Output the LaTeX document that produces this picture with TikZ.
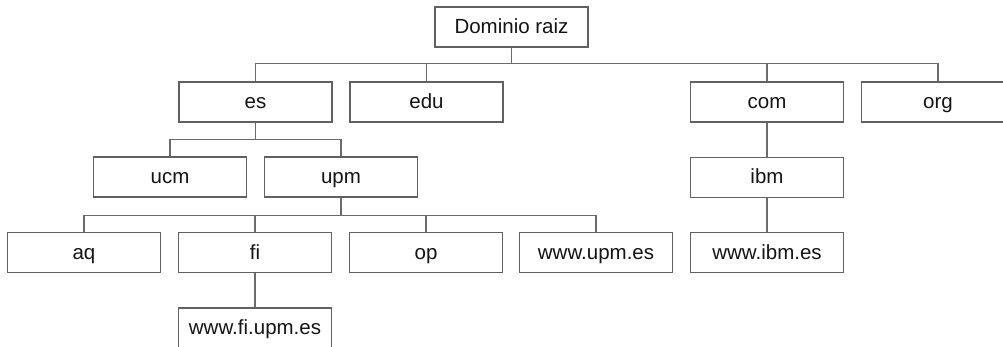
\documentclass[tikz,border=0pt]{standalone}
\usepackage{fontspec}
\setmainfont{Liberation Sans}
\begin{document}
\begin{tikzpicture}[x=1pt,y=-1pt,
  dnsbox/.style={draw=black!62, line width=1.5pt, fill=white,
    minimum width=153pt, minimum height=40pt, inner sep=0pt,
    text height=17pt, text depth=4pt,
    text=black!92, font=\fontsize{20.5}{24}\selectfont},
  link/.style={draw=black!58, line width=1.5pt}]
\useasboundingbox (0,0) rectangle (1003,347);

% top level
\node[dnsbox] (root) at (511.5,27) {Dominio raiz};
\node[dnsbox] (es)   at (255.5,102) {es};
\node[dnsbox] (edu)  at (426.5,102) {edu};
\node[dnsbox] (com)  at (767,102) {com};
\node[dnsbox] (org)  at (938,102) {org};

% second level
\node[dnsbox] (ucm)  at (170,177) {ucm};
\node[dnsbox] (upm)  at (341,177) {upm};
\node[dnsbox] (ibm)  at (767,177.5) {ibm};

% third level
\node[dnsbox] (aq)   at (84,252.5) {aq};
\node[dnsbox] (fi)   at (255,252.5) {fi};
\node[dnsbox] (op)   at (426,252.5) {op};
\node[dnsbox] (wupm) at (596,252.5) {www.upm.es};
\node[dnsbox] (wibm) at (767,252.5) {www.ibm.es};

% fourth level
\node[dnsbox] (wfi)  at (255,328) {www.fi.upm.es};

% connectors
\foreach \c in {es,edu,com,org}
  \draw[link] (root.south) -- ++(0,16) -| (\c.north);
\foreach \c in {ucm,upm}
  \draw[link] (es.south) -- ++(0,17) -| (\c.north);
\foreach \c in {aq,fi,op,wupm}
  \draw[link] (upm.south) -- ++(0,18) -| (\c.north);
\draw[link] (com.south) -- (ibm.north);
\draw[link] (ibm.south) -- (wibm.north);
\draw[link] (fi.south) -- (wfi.north);
\end{tikzpicture}
\end{document}
